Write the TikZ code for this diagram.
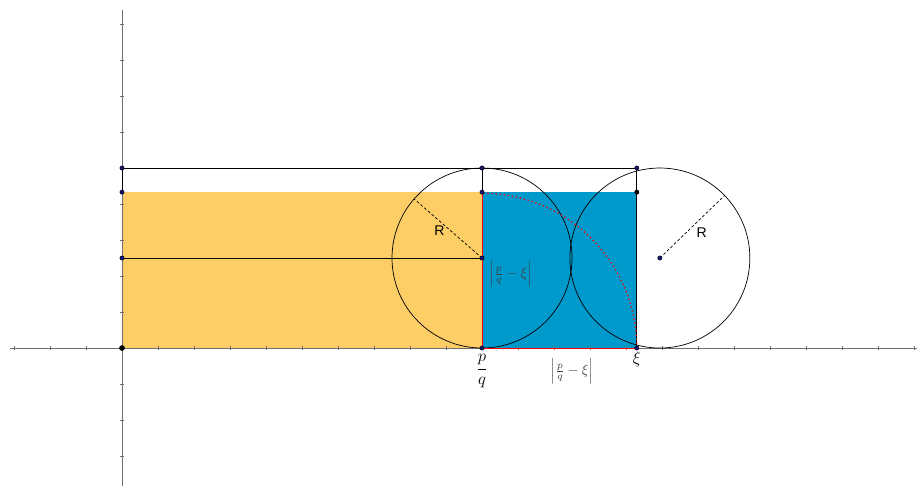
\documentclass[tikz,border=0pt]{standalone}
\usepackage{fontspec}
\setsansfont{Liberation Sans}
\definecolor{orangefill}{RGB}{253,205,102}
\definecolor{bluefill}{RGB}{0,153,204}
\definecolor{axisgray}{RGB}{110,110,110}
\definecolor{ptblue}{RGB}{20,20,120}
\tikzset{
  pt/.style={draw=black,fill=ptblue,line width=0.3pt},
  rad/.style={dashed,line width=0.5pt,dash pattern=on 2pt off 1.5pt},
}
\begin{document}
\begin{tikzpicture}[x=0.9cm,y=0.9cm]
            \useasboundingbox (-3.389,-3.833) rectangle (22.083,9.667);
            % points of the figure
            \coordinate (O) at (0,0);
            \coordinate (P) at (10,0);
            \coordinate (X) at (14.3,0);
            \coordinate (Ol) at (0,4.33);
            \coordinate (Pl) at (10,4.33);
            \coordinate (Xl) at (14.3,4.33);
            \coordinate (Ot) at (0,5);
            \coordinate (Pt) at (10,5);
            \coordinate (Xt) at (14.3,5);
            \coordinate (Om) at (0,2.5);
            \coordinate (C1) at (10,2.5);
            \coordinate (C2) at (14.94,2.5);
            % filled regions
            \fill[orangefill] (O) rectangle (Pl);
            \fill[bluefill] (P) rectangle (Xl);
            % axes
            \draw[axisgray, line width=0.6pt] (-3.11,0) -- (22.08,0);
            \draw[axisgray, line width=0.6pt] (0,-3.83) -- (0,9.4);
            \foreach \i in {-3,...,-1,1,2,...,22}
                \draw[axisgray, line width=0.4pt] (\i,-0.05) -- (\i,0.05);
            \foreach \j in {-3,...,-1,1,2,...,9}
                \draw[axisgray, line width=0.4pt] (-0.05,\j) -- (0.05,\j);
            % rectangle lines
            \draw[line width=0.5pt] (Ot) -- (Xt);
            \draw[line width=0.5pt] (Ol) -- (Ot);
            \draw[line width=0.5pt] (Pl) -- (Pt);
            \draw[line width=0.5pt] (X) -- (Xt);
            \draw[line width=0.5pt] (Om) -- (C1);
            % circles
            \draw[line width=0.5pt] (C1) circle (2.5);
            \draw[line width=0.5pt] (C2) circle (2.5);
            % red sides and arc
            \draw[red, line width=0.7pt] (P) -- (Pl);
            \draw[red, line width=0.7pt] (P) -- (X);
            \draw[red, line width=0.9pt, dotted] (X) arc (0:90:4.3);
            % radii
            \draw[rad] (C1) -- ++(139:2.5) coordinate (R1);
            \draw[rad] (C2) -- ++(44:2.5) coordinate (R2);
            \node[font=\sffamily] (lr1) at (8.82,3.25) {R};
            \node[font=\sffamily] (lr2) at (16.1,3.2) {R};
            % labels
            \node[below=1pt] (lp) at (P) {\large$\displaystyle\frac{p}{q}$};
            \node[below=-1pt] (lx) at (X) {\large$\xi$};
            \node[text=black!75] (ld1) at (12.5,-0.65) {$\left|\frac{p}{q}-\xi\right|$};
            \node[text=black!75] (ld2) at (10.8,2.05) {$\left|\frac{p}{q}-\xi\right|$};
            % dots
            \foreach \p in {Ot,Pt,Xt,Ol,Pl,Om,C1,P,X,C2}
                \draw[pt] (\p) circle (0.06);
            \draw[fill=black] (Xl) circle (0.06);
            \draw[fill=black] (O) circle (0.07);
        \end{tikzpicture}
\end{document}
